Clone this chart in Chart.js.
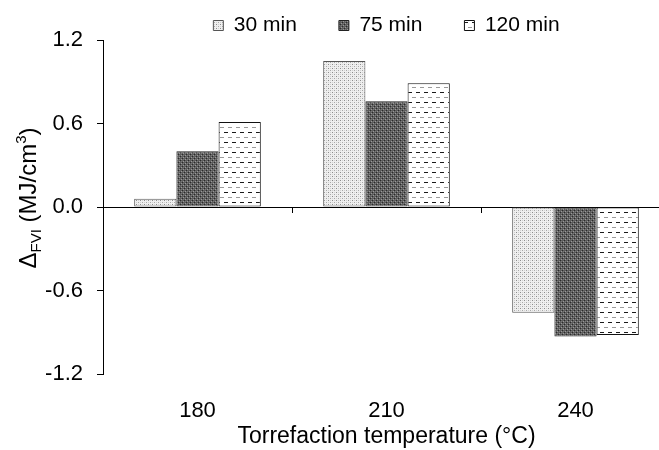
<!DOCTYPE html>
<html>
<head>
<meta charset="utf-8">
<script src="https://cdn.jsdelivr.net/npm/chart.js@4.4.0/dist/chart.umd.min.js"></script>
<style>
  html, body { margin: 0; padding: 0; background: #fff; overflow: hidden; }
  #wrap { width: 670px; height: 450px; }
</style>
</head>
<body>
<div id="wrap"><canvas id="chart" width="670" height="450"></canvas></div>
<script>
// Dados do gráfico
const categorias = ["180", "210", "240"];
const series = ["30 min", "75 min", "120 min"];
const valores30 = [0.06, 1.05, -0.76];
const valores75 = [0.40, 0.76, -0.93];
const valores120 = [0.61, 0.89, -0.92];
const yTicks = [-1.2, -0.6, 0.0, 0.6, 1.2];

const FONTE = "'Liberation Sans', Arial, sans-serif";

// Cria um padrão de preenchimento a partir de um pequeno ladrilho
const makePattern = (w, h, draw) => {
  const tile = document.createElement("canvas");
  tile.width = w;
  tile.height = h;
  const g = tile.getContext("2d");
  draw(g);
  return g.createPattern(tile, "repeat");
};

const px = (g, color, x, y) => {
  g.fillStyle = color;
  g.fillRect(x, y, 1, 1);
};

// 30 min: pontilhado claro
const padrao30 = makePattern(4, 4, (g) => {
  g.fillStyle = "#efefef";
  g.fillRect(0, 0, 4, 4);
  px(g, "#8c8c8c", 0, 0);
  px(g, "#a8a8a8", 2, 2);
  px(g, "#d2d2d2", 2, 0);
  px(g, "#d2d2d2", 0, 2);
});

// 75 min: trama escura
const padrao75 = makePattern(4, 4, (g) => {
  g.fillStyle = "#5c5c5c";
  g.fillRect(0, 0, 4, 4);
  px(g, "#2a2a2a", 0, 0);
  px(g, "#2a2a2a", 2, 2);
  px(g, "#9a9a9a", 1, 3);
  px(g, "#9a9a9a", 3, 1);
  px(g, "#7a7a7a", 1, 1);
  px(g, "#7a7a7a", 3, 3);
});

// 120 min: tracejado horizontal
const padrao120 = makePattern(8, 10, (g) => {
  g.fillStyle = "#ffffff";
  g.fillRect(0, 0, 8, 10);
  g.fillStyle = "#1a1a1a";
  g.fillRect(0, 2, 4, 1);
  g.fillStyle = "#9a9a9a";
  g.fillRect(4, 7, 4, 1);
});

// Plugin para o título do eixo Y com subscrito e sobrescrito
const tituloY = {
  id: "tituloY",
  afterDraw(chart) {
    const ctx = chart.ctx;
    const partes = [
      { t: "\u0394", size: 24, dy: 0 },
      { t: "FVI", size: 15, dy: 5 },
      { t: " (MJ/cm", size: 24, dy: 0 },
      { t: "3", size: 15, dy: -10 },
      { t: ")", size: 24, dy: 0 },
    ];
    ctx.save();
    let total = 0;
    partes.forEach((p) => {
      ctx.font = `${p.size}px ${FONTE}`;
      p.w = ctx.measureText(p.t).width;
      total += p.w;
    });
    ctx.translate(36, 198);
    ctx.rotate(-Math.PI / 2);
    ctx.fillStyle = "#000";
    ctx.textBaseline = "alphabetic";
    let x = -total / 2;
    partes.forEach((p) => {
      ctx.font = `${p.size}px ${FONTE}`;
      ctx.fillText(p.t, x, p.dy);
      x += p.w;
    });
    ctx.restore();
  },
};

const ctx = document.querySelector("#chart").getContext("2d");
const chart = new Chart(ctx, {
  type: "bar",
  data: {
    labels: categorias,
    datasets: [
      { label: series[0], data: valores30, backgroundColor: padrao30, borderColor: "#555", borderWidth: 1 },
      { label: series[1], data: valores75, backgroundColor: padrao75, borderColor: "#222", borderWidth: 1 },
      { label: series[2], data: valores120, backgroundColor: padrao120, borderColor: "#111", borderWidth: 1 },
    ],
  },
  options: {
    responsive: false,
    animation: false,
    layout: { padding: { top: -27, left: 0, right: 0, bottom: 0 } },
    datasets: {
      bar: { categoryPercentage: 0.67, barPercentage: 1.0, borderSkipped: false },
    },
    plugins: {
      legend: {
        position: "top",
        fullSize: false,
        maxHeight: 67,
        labels: {
          boxWidth: 10,
          boxHeight: 10,
          padding: 42,
          color: "#000",
          font: { family: FONTE, size: 21 },
        },
      },
      tooltip: { enabled: false },
    },
    scales: {
      x: {
        type: "category",
        position: "bottom",
        grid: { display: false },
        border: { display: false },
        ticks: { color: "#000", padding: 16, font: { family: FONTE, size: 22 } },
        title: {
          display: true,
          text: "Torrefaction temperature (\u00B0C)",
          color: "#000",
          padding: { top: 0, bottom: 0 },
          font: { family: FONTE, size: 23 },
        },
        afterFit: (scale) => { scale.height = 76; },
      },
      x0: {
        type: "category",
        labels: categorias,
        position: { y: 0 },
        ticks: { display: false },
        grid: { offset: true, drawOnChartArea: false, drawTicks: true, tickLength: 5, color: "#000" },
        border: { color: "#000", width: 1 },
      },
      y: {
        min: -1.2,
        max: 1.2,
        afterBuildTicks: (scale) => { scale.ticks = yTicks.map((v) => ({ value: v })); },
        ticks: {
          color: "#000",
          padding: 14,
          font: { family: FONTE, size: 22 },
          callback: (v) => (Math.abs(v) < 1e-9 ? "0.0" : Number(v).toFixed(1)),
        },
        grid: { drawOnChartArea: false, drawTicks: true, tickLength: 6, color: "#000" },
        border: { color: "#000", width: 1 },
        afterFit: (scale) => { scale.width = 103; },
      },
    },
  },
  plugins: [tituloY],
});
</script>
</body>
</html>
